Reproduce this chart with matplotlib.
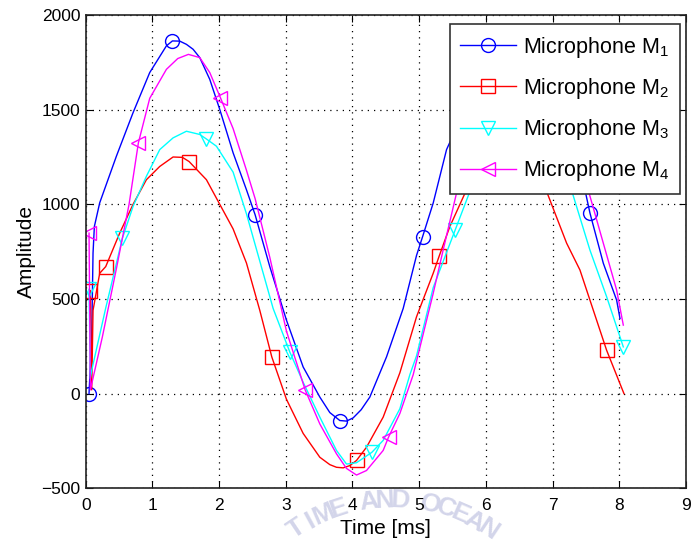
import numpy as np
import matplotlib.pyplot as plt

plt.rcParams['font.family'] = ['Liberation Sans', 'DejaVu Sans']
plt.rcParams['mathtext.default'] = 'regular'

# microphone M1
time_m1 = [0.05, 0.09, 0.11, 0.13, 0.21, 0.46, 0.71, 0.96, 1.21, 1.30, 1.41, 1.51, 1.61, 1.71,
           1.86, 2.01, 2.21, 2.41, 2.54, 2.76, 3.01, 3.26, 3.51, 3.66, 3.81, 3.91, 4.01, 4.13,
           4.26, 4.51, 4.76, 4.96, 5.05, 5.21, 5.41, 5.49, 5.75, 6.0, 6.3, 6.5, 6.75, 7.0,
           7.25, 7.49, 7.56, 7.76, 7.96, 8.01]
amp_m1 = [0, 300, 743, 883, 1008, 1254, 1484, 1696, 1837, 1863, 1862, 1845, 1819, 1775,
          1660, 1501, 1272, 1077, 945, 671, 388, 141, -18, -100, -142, -145, -128, -85,
          -18, 194, 450, 730, 828, 1007, 1289, 1351, 1580, 1760, 1855, 1850, 1760, 1570,
          1330, 1068, 954, 689, 494, 397]
marker_t_m1 = [0.05, 1.30, 2.54, 3.81, 5.05, 6.3, 7.56]

# microphone M2
time_m2 = [0.07, 0.09, 0.11, 0.21, 0.30, 0.51, 0.71, 0.91, 1.11, 1.31, 1.45, 1.55, 1.81,
           2.01, 2.21, 2.41, 2.61, 2.79, 3.01, 3.26, 3.51, 3.66, 3.76, 3.86, 3.96, 4.06,
           4.21, 4.46, 4.71, 4.96, 5.21, 5.30, 5.46, 5.71, 5.95, 6.2, 6.55, 6.75, 6.91,
           7.21, 7.41, 7.61, 7.81, 8.07]
amp_m2 = [544, 20, 440, 636, 671, 848, 1000, 1130, 1200, 1250, 1248, 1226, 1130,
          1000, 870, 690, 440, 194, -30, -210, -336, -375, -389, -392, -380, -353,
          -283, -124, 110, 406, 636, 727, 883, 1077, 1180, 1240, 1245, 1170, 1068,
          795, 653, 441, 229, 0]
marker_t_m2 = [0.07, 0.30, 1.55, 2.79, 4.06, 5.30, 6.55, 7.81]

# microphone M3
time_m3 = [0.05, 0.07, 0.09, 0.30, 0.55, 0.71, 0.91, 1.11, 1.31, 1.51, 1.71, 1.81, 1.96,
           2.21, 2.41, 2.61, 2.81, 3.06, 3.26, 3.51, 3.76, 3.91, 4.06, 4.29, 4.46, 4.71,
           4.86, 4.96, 5.21, 5.31, 5.54, 5.76, 6.0, 6.3, 6.6, 6.81, 7.05, 7.29, 7.56,
           7.81, 8.01, 8.06]
amp_m3 = [551, 80, 123, 452, 821, 989, 1148, 1289, 1351, 1386, 1369, 1345, 1307,
          1170, 950, 700, 450, 220, 60, -124, -300, -372, -365, -310, -247, -80,
          100, 200, 560, 653, 865, 1068, 1290, 1375, 1390, 1340, 1230, 1068, 758,
          512, 300, 247]
marker_t_m3 = [0.05, 0.55, 1.81, 3.06, 4.29, 5.54, 6.81, 8.06]

# microphone M4
time_m4 = [0.05, 0.07, 0.25, 0.46, 0.65, 0.79, 0.96, 1.21, 1.38, 1.54, 1.71, 1.86, 2.02,
           2.21, 2.41, 2.54, 2.76, 3.01, 3.29, 3.51, 3.76, 3.91, 4.06, 4.21, 4.46, 4.54,
           4.71, 4.91, 5.21, 5.36, 5.56, 5.81, 6.05, 6.3, 6.55, 6.8, 7.06, 7.3, 7.54,
           7.76, 7.96, 8.06]
amp_m4 = [848, 20, 300, 660, 1000, 1325, 1560, 1713, 1770, 1792, 1775, 1696, 1563,
          1400, 1180, 1030, 720, 330, 20, -160, -318, -395, -430, -406, -300, -230,
          -105, 100, 530, 760, 1060, 1400, 1620, 1750, 1790, 1740, 1580, 1350, 1068,
          795, 547, 362]
marker_t_m4 = [0.05, 0.79, 2.02, 3.29, 4.54, 5.81, 7.06]

labels = ['Microphone M$_1$', 'Microphone M$_2$', 'Microphone M$_3$', 'Microphone M$_4$']
x_ticks = [0, 1, 2, 3, 4, 5, 6, 7, 8, 9]
y_ticks = [-500, 0, 500, 1000, 1500, 2000]

fig = plt.figure(figsize=(6.92, 5.48), dpi=100)
ax = fig.add_axes([85.7 / 692, 1 - 488.3 / 548, 600.3 / 692, 473.3 / 548])

# faint watermark of the source document (drawn first, behind everything)
wm = "TIME AND OCEAN"
cx, cy, R = 392, 672, 172
for i, ch in enumerate(wm):
    th = np.radians((i - 6.5) * 5.2)
    px = cx + R * np.sin(th)
    py = cy - R * np.cos(th)
    fig.text(px / 692, 1 - py / 548, ch, color='#d3d5ea', fontsize=19, fontweight='bold',
             rotation=-np.degrees(th), ha='center', va='center', zorder=-1)

series = [(time_m1, amp_m1, marker_t_m1, '#0000ff', 'o', 10),
          (time_m2, amp_m2, marker_t_m2, '#ff0000', 's', 9.5),
          (time_m3, amp_m3, marker_t_m3, '#00ffff', 'v', 10.5),
          (time_m4, amp_m4, marker_t_m4, '#ff00ff', '<', 10.5)]
for (t, a, mt, col, mk, ms), lab in zip(series, labels):
    idx = [t.index(x) for x in mt]
    ax.plot(t, a, color=col, lw=1.0, marker=mk, ms=ms, mfc='none', mec=col, mew=1.0,
            markevery=idx, label=lab)

ax.set_xlim(0, 9)
ax.set_ylim(-500, 2000)
ax.set_xticks(x_ticks)
ax.set_yticks(y_ticks)
ax.grid(True, color='black', linestyle=(0, (1, 4)), linewidth=0.9)
ax.tick_params(direction='in', top=True, right=True, length=5, labelsize=12.5)
ax.tick_params(axis='x', pad=7)
ax.tick_params(axis='y', pad=4)
for s in ax.spines.values():
    s.set_color('#222222')
    s.set_linewidth(1.2)
ax.set_xlabel('Time [ms]', fontsize=15, labelpad=4)
ax.set_ylabel('Amplitude', fontsize=15, labelpad=4)
ax.patch.set_alpha(0)

leg = ax.legend(loc='upper right', bbox_to_anchor=(0.990, 0.981), fontsize=15.5,
                fancybox=False, framealpha=1, edgecolor='#333333', borderaxespad=0,
                handlelength=2.6, labelspacing=0.75, borderpad=0.5, handletextpad=0.3)
leg.get_frame().set_linewidth(1.2)

fig.savefig('out.png', dpi=100)
